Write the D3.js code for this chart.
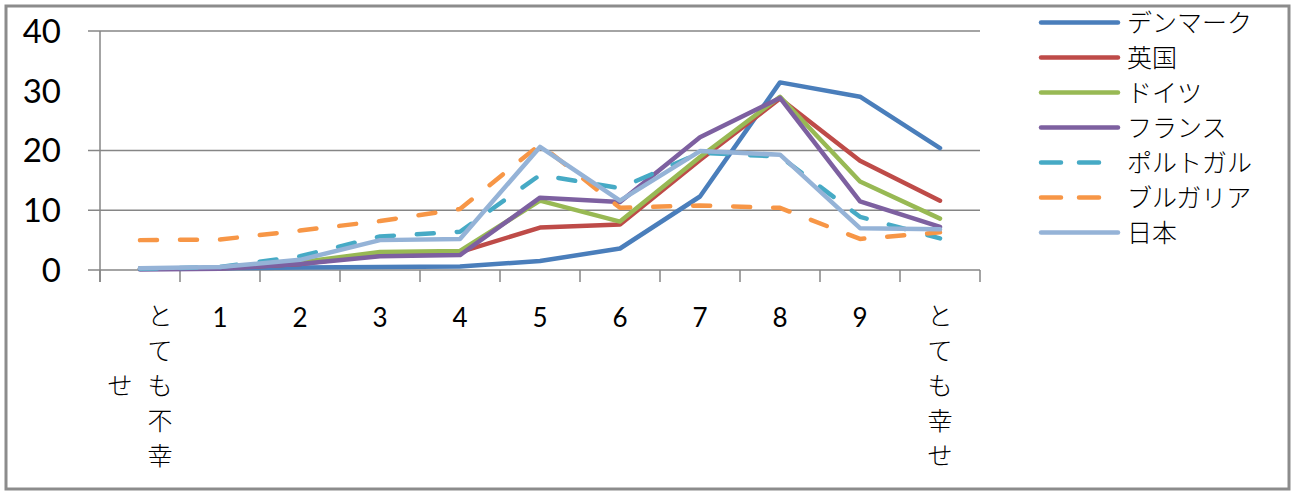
<!DOCTYPE html>
<html>
<head>
<meta charset="utf-8">
<script src="https://cdn.jsdelivr.net/npm/d3@7"></script>
<style>
  body { margin: 0; background: #fff; }
  .num { font-family: Lato, "Open Sans", sans-serif; fill: #000; }
  .jp { font-family: "Noto Sans CJK JP", sans-serif; font-weight: 300; fill: #000; }
</style>
</head>
<body>
<div id="chart"></div>
<script>
var categories = ["とても不幸せ", "1", "2", "3", "4", "5", "6", "7", "8", "9", "とても幸せ"];
var yTicks = [0, 10, 20, 30, 40];
var gridTicks = [0, 10, 20, 40];

var denmark  = [0.3, 0.3, 0.4, 0.5, 0.6, 1.5, 3.6, 12.3, 31.4, 29.0, 20.4];
var uk       = [0.2, 0.3, 1.0, 2.6, 3.0, 7.1, 7.6, 18.4, 28.7, 18.3, 11.6];
var germany  = [0.2, 0.3, 1.3, 3.0, 3.2, 11.6, 8.1, 18.9, 29.0, 14.8, 8.6];
var france   = [0.1, 0.2, 1.0, 2.3, 2.5, 12.1, 11.4, 22.2, 28.8, 11.5, 7.2];
var portugal = [0.2, 0.5, 2.3, 5.6, 6.4, 15.9, 13.7, 19.6, 19.0, 8.9, 5.3];
var bulgaria = [5.0, 5.1, 6.6, 8.2, 10.2, 21.0, 10.4, 10.8, 10.4, 5.2, 6.3];
var japan    = [0.3, 0.5, 1.7, 5.0, 5.2, 20.6, 11.6, 19.9, 19.3, 7.0, 6.8];

var seriesNames = ["デンマーク", "英国", "ドイツ", "フランス", "ポルトガル", "ブルガリア", "日本"];
var seriesData = [denmark, uk, germany, france, portugal, bulgaria, japan];
var seriesColors = ["#4A7EBB", "#BE4B48", "#98B954", "#7D60A0", "#46AAC5", "#F79646", "#95B3D7"];
var seriesDashed = [false, false, false, false, true, true, false];

var svgWidth = 1299;
var svgHeight = 492;

var svg = d3.select("#chart")
    .append("svg")
    .attr("width", svgWidth)
    .attr("height", svgHeight);

// outer frame
svg.append("rect")
    .attr("x", 6)
    .attr("y", 6)
    .attr("width", 1283)
    .attr("height", 483)
    .attr("fill", "none")
    .attr("stroke", "#8c8c8c")
    .attr("stroke-width", 3);

var x = d3.scalePoint()
    .domain(d3.range(categories.length))
    .range([100, 980])
    .padding(0.5);

var y = d3.scaleLinear()
    .domain([0, 40])
    .range([270, 31]);

var step = x.step();
var axisColor = "#868686";

// gridlines
svg.selectAll(".grid")
    .data(gridTicks)
    .enter()
    .append("line")
    .attr("x1", 88)
    .attr("x2", 980)
    .attr("y1", d => y(d))
    .attr("y2", d => y(d))
    .attr("stroke", axisColor)
    .attr("stroke-width", 1.5);

// y axis line
svg.append("line")
    .attr("x1", 100).attr("x2", 100)
    .attr("y1", y(40)).attr("y2", y(0) + 12)
    .attr("stroke", axisColor)
    .attr("stroke-width", 1.5);

// x axis tick marks between categories
svg.selectAll(".xtick")
    .data(d3.range(categories.length + 1))
    .enter()
    .append("line")
    .attr("x1", d => 100 + d * step)
    .attr("x2", d => 100 + d * step)
    .attr("y1", y(0))
    .attr("y2", y(0) + 12)
    .attr("stroke", axisColor)
    .attr("stroke-width", 1.5);

// y labels
svg.selectAll(".ylab")
    .data(yTicks)
    .enter()
    .append("text")
    .attr("class", "num")
    .attr("x", 61)
    .attr("y", d => y(d))
    .attr("dy", "0.36em")
    .attr("text-anchor", "end")
    .attr("font-size", "33px")
    .text(d => d);

// x labels (long Japanese labels stacked vertically, wrapping into a second column)
var rowStep = 35;
categories.forEach(function (label, i) {
    var cx = x(i);
    if (label.length === 1) {
        svg.append("text")
            .attr("class", "num")
            .attr("x", cx)
            .attr("y", 318)
            .attr("dy", "0.36em")
            .attr("text-anchor", "middle")
            .attr("font-size", "26px")
            .text(label);
        return;
    }
    var chars = label.split("");
    var maxRows = 5;
    var twoCols = chars.length > maxRows;
    var col1 = chars.slice(0, maxRows);
    var col2 = chars.slice(maxRows);
    col1.forEach(function (c, r) {
        svg.append("text")
            .attr("class", "jp")
            .attr("x", twoCols ? cx + 20 : cx)
            .attr("y", 316 + r * rowStep)
            .attr("dy", "0.36em")
            .attr("text-anchor", "middle")
            .attr("font-size", "25px")
            .text(c);
    });
    var offset = Math.floor((maxRows - col2.length) / 2);
    col2.forEach(function (c, r) {
        svg.append("text")
            .attr("class", "jp")
            .attr("x", cx - 20)
            .attr("y", 316 + (r + offset) * rowStep)
            .attr("dy", "0.36em")
            .attr("text-anchor", "middle")
            .attr("font-size", "25px")
            .text(c);
    });
});

var line = d3.line()
    .x((d, i) => x(i))
    .y(d => y(d));

seriesData.forEach(function (values, s) {
    svg.append("path")
        .datum(values)
        .attr("d", line)
        .attr("fill", "none")
        .attr("stroke", seriesColors[s])
        .attr("stroke-width", 4.5)
        .attr("stroke-linejoin", "round")
        .attr("stroke-linecap", "round")
        .attr("stroke-dasharray", seriesDashed[s] ? "17 23" : null);
});

// legend
var legend = svg.append("g");
seriesNames.forEach(function (name, s) {
    var ly = 22.5 + s * 35;
    legend.append("line")
        .attr("x1", 1041)
        .attr("x2", seriesDashed[s] ? 1099 : 1118)
        .attr("y1", ly)
        .attr("y2", ly)
        .attr("stroke", seriesColors[s])
        .attr("stroke-width", 4.5)
        .attr("stroke-linecap", "round")
        .attr("stroke-dasharray", seriesDashed[s] ? "20 18" : null);
    legend.append("text")
        .attr("class", "jp")
        .attr("x", 1127)
        .attr("y", ly)
        .attr("dy", "0.36em")
        .attr("font-size", "25px")
        .text(name);
});
</script>
</body>
</html>
